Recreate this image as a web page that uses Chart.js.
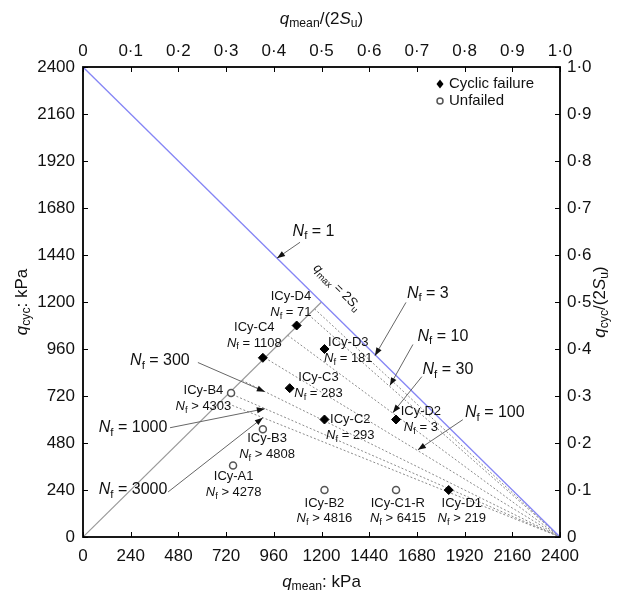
<!DOCTYPE html>
<html><head><meta charset="utf-8">
<script src="https://cdn.jsdelivr.net/npm/chart.js@4/dist/chart.umd.min.js"></script>
<style>html,body{margin:0;padding:0;background:#fff;}canvas{display:block;}</style>
</head><body>
<canvas id="c" width="620" height="596"></canvas>
<script>
// ---------------- data ----------------
const twoSu = 2400;
const kPaTicks = ['0','240','480','720','960','1200','1440','1680','1920','2160','2400'];
const normTicks = ['0','0·1','0·2','0·3','0·4','0·5','0·6','0·7','0·8','0·9','1·0'];

const failedNames = ['ICy-D4','ICy-C4','ICy-D3','ICy-C3','ICy-C2','ICy-D2','ICy-D1'];
const failedMean  = [1075, 905, 1215, 1040, 1215, 1575, 1840];
const failedCyc   = [1080, 915, 960, 760, 600, 600, 240];
const failedNf    = ['= 71','= 1108','= 181','= 283','= 293','= 3','> 219'];

const unfailedNames = ['ICy-B4','ICy-B3','ICy-A1','ICy-B2','ICy-C1-R'];
const unfailedMean  = [745, 905, 755, 1215, 1575];
const unfailedCyc   = [735, 550, 365, 240, 240];
const unfailedNf    = ['> 4303','> 4808','> 4278','> 4816','> 6415'];

// Nf contours: straight from (2Su, 0) to a point on the qcyc = qmean line
const contourNf    = [3, 10, 30, 100, 300, 1000, 3000];
const contourStart = [1165, 1135, 1030, 915, 800, 735, 695];

const oneToOneEnd = 1200;

// ---------------- annotation layout (data units) ----------------
const failedLabelAt   = [[1046,1228],[862,1070],[1335,993],[1185,814],[1345,599],[1700,640],[1906,174]];
const unfailedLabelAt = [[606,747],[926,501],[758,307],[1215,174],[1584,174]];

const arrowNf     = [1, 3, 10, 30, 100, 300, 1000, 3000];
const arrowTextAt = [[1160,1561],[1735,1244],[1811,1024],[1836,855],[2072,635],[387,901],[252,558],[252,240]];
const arrowFrom   = [[1092,1505],[1625,1198],[1660,983],[1705,819],[1911,599],[578,891],[438,558],[428,230]];
const arrowTip    = [[976,1424],[1469,926],[1544,773],[1559,635],[1685,445],[915,742],[915,655],[905,609]];
const qmaxLabelAt = [1278,1274];

// ---------------- helpers ----------------
const FAM = '"Liberation Sans", Arial, Helvetica, sans-serif';
function drawRich(ctx, segs, x, y, size, align, rot) {
  ctx.save(); ctx.translate(x, y); if (rot) ctx.rotate(rot);
  const f = st => (st === 'i' ? 'italic ' : '') + (st === 's' ? (size*0.72).toFixed(1) : size) + 'px ' + FAM;
  let w = 0;
  segs.forEach(([t, st]) => { ctx.font = f(st); w += ctx.measureText(t).width; });
  let cx = align === 'center' ? -w/2 : (align === 'right' ? -w : 0);
  ctx.textBaseline = 'middle'; ctx.textAlign = 'left'; ctx.fillStyle = '#111';
  segs.forEach(([t, st]) => { ctx.font = f(st); ctx.fillText(t, cx, st === 's' ? size*0.3 : 0); cx += ctx.measureText(t).width; });
  ctx.restore();
}
const nfSegs = rel => [['N','i'],['f','s'],[' ' + rel,'n']];

const annot = {
  id: 'annot',
  afterDatasetsDraw(chart) {
    const {ctx, scales: {x, y}} = chart;
    const X = v => x.getPixelForValue(v), Y = v => y.getPixelForValue(v);
    const lab = (names, nfs, at) => names.forEach((n, i) => {
      const px = X(at[i][0]), py = Y(at[i][1]);
      drawRich(ctx, [[n,'n']], px, py, 13, 'center');
      drawRich(ctx, nfSegs(nfs[i]), px, py + 15.5, 13, 'center');
    });
    lab(failedNames, failedNf, failedLabelAt);
    lab(unfailedNames, unfailedNf, unfailedLabelAt);
    arrowNf.forEach((n, i) => {
      const fx = X(arrowFrom[i][0]), fy = Y(arrowFrom[i][1]);
      const tx = X(arrowTip[i][0]), ty = Y(arrowTip[i][1]);
      ctx.save();
      ctx.strokeStyle = '#666'; ctx.lineWidth = 1;
      ctx.beginPath(); ctx.moveTo(fx, fy); ctx.lineTo(tx, ty); ctx.stroke();
      const ang = Math.atan2(ty - fy, tx - fx);
      ctx.translate(tx, ty); ctx.rotate(ang);
      ctx.fillStyle = '#111';
      ctx.beginPath(); ctx.moveTo(0, 0); ctx.lineTo(-8, -3); ctx.lineTo(-8, 3); ctx.closePath(); ctx.fill();
      ctx.restore();
      drawRich(ctx, nfSegs('= ' + n), X(arrowTextAt[i][0]), Y(arrowTextAt[i][1]), 16, 'center');
    });
    const ang = Math.atan2(Y(0) - Y(twoSu), X(twoSu) - X(0));
    drawRich(ctx, [['q','i'],['max','s'],[' = 2','n'],['S','i'],['u','s']], X(qmaxLabelAt[0]), Y(qmaxLabelAt[1]), 13, 'center', ang);
  },
  afterDraw(chart) {
    const {ctx, chartArea: a, scales: {x, y, x2, y2}} = chart;
    ctx.save();
    ctx.strokeStyle = '#000'; ctx.lineWidth = 1;
    const L = 5;
    x.ticks.forEach(t => { const p = Math.round(x.getPixelForValue(t.value)) + 0.5; ctx.beginPath(); ctx.moveTo(p, a.bottom); ctx.lineTo(p, a.bottom - L); ctx.stroke(); });
    x2.ticks.forEach(t => { const p = Math.round(x2.getPixelForValue(t.value)) + 0.5; ctx.beginPath(); ctx.moveTo(p, a.top); ctx.lineTo(p, a.top + L); ctx.stroke(); });
    y.ticks.forEach(t => { const p = Math.round(y.getPixelForValue(t.value)) + 0.5; ctx.beginPath(); ctx.moveTo(a.left, p); ctx.lineTo(a.left + L, p); ctx.stroke(); });
    y2.ticks.forEach(t => { const p = Math.round(y2.getPixelForValue(t.value)) + 0.5; ctx.beginPath(); ctx.moveTo(a.right, p); ctx.lineTo(a.right - L, p); ctx.stroke(); });
    ctx.lineWidth = 1.8;
    ctx.strokeRect(a.left, a.top, a.right - a.left, a.bottom - a.top);
    ctx.restore();
    const cxm = (a.left + a.right) / 2, cym = (a.top + a.bottom) / 2;
    drawRich(ctx, [['q','i'],['mean','s'],[': kPa','n']], cxm, 582, 17, 'center');
    drawRich(ctx, [['q','i'],['mean','s'],['/(2','n'],['S','i'],['u','s'],[')','n']], cxm, 19, 17, 'center');
    drawRich(ctx, [['q','i'],['cyc','s'],[': kPa','n']], 22, cym, 17, 'center', -Math.PI/2);
    drawRich(ctx, [['q','i'],['cyc','s'],['/(2','n'],['S','i'],['u','s'],[')','n']], 600, cym, 17, 'center', -Math.PI/2);
    const lx = a.right - 120, ly = a.top + 17;
    ctx.save();
    ctx.fillStyle = '#000';
    ctx.beginPath(); ctx.moveTo(lx, ly - 4.5); ctx.lineTo(lx + 3.5, ly); ctx.lineTo(lx, ly + 4.5); ctx.lineTo(lx - 3.5, ly); ctx.closePath(); ctx.fill();
    ctx.strokeStyle = '#555'; ctx.lineWidth = 1.5;
    ctx.beginPath(); ctx.arc(lx, ly + 17, 3, 0, Math.PI*2); ctx.stroke();
    ctx.restore();
    drawRich(ctx, [['Cyclic failure','n']], lx + 9, ly, 15, 'left');
    drawRich(ctx, [['Unfailed','n']], lx + 9, ly + 17, 15, 'left');
  }
};

// ---------------- datasets ----------------
const pts = (xs, ys) => xs.map((v, i) => ({x: v, y: ys[i]}));
const datasets = [
  {label: 'Cyclic failure', data: pts(failedMean, failedCyc), pointStyle: 'rectRot', pointRadius: 4.5,
   backgroundColor: '#000', borderColor: '#000', borderWidth: 1, showLine: false, order: 0},
  {label: 'Unfailed', data: pts(unfailedMean, unfailedCyc), pointStyle: 'circle', pointRadius: 3.5,
   backgroundColor: '#fff', borderColor: '#555', borderWidth: 1.5, showLine: false, order: 0},
  {label: 'qmax = 2Su', data: [{x: 0, y: twoSu}, {x: twoSu, y: 0}], showLine: true, pointRadius: 0,
   borderColor: '#8585f5', borderWidth: 1.3, order: 2},
  {label: 'qcyc = qmean', data: [{x: 0, y: 0}, {x: oneToOneEnd, y: oneToOneEnd}], showLine: true, pointRadius: 0,
   borderColor: '#9a9a9a', borderWidth: 1.2, order: 3},
];
contourNf.forEach((n, i) => datasets.push({
  label: 'Nf = ' + n, data: [{x: contourStart[i], y: contourStart[i]}, {x: twoSu, y: 0}], showLine: true, pointRadius: 0,
  borderColor: '#8a8a8a', borderWidth: 1, borderDash: [2, 2], order: 4
}));

const tickFont = {family: FAM, size: 17};
const common = {grid: {display: false, drawTicks: false}, border: {display: false}};
new Chart(document.getElementById('c'), {
  type: 'scatter',
  data: {datasets},
  options: {
    responsive: false, animation: false, devicePixelRatio: 1,
    layout: {padding: 0},
    plugins: {legend: {display: false}, tooltip: {enabled: false}},
    scales: {
      x: {...common, type: 'linear', position: 'bottom', min: 0, max: 2400,
          ticks: {stepSize: 240, autoSkip: false, maxRotation: 0, padding: 9, color: '#111', font: tickFont,
                  callback: (v, i) => kPaTicks[i]},
          afterFit: s => { s.height = 59; }},
      x2: {...common, type: 'linear', position: 'top', min: 0, max: 1,
          ticks: {stepSize: 0.1, autoSkip: false, maxRotation: 0, padding: 5, color: '#111', font: tickFont,
                  callback: (v, i) => normTicks[i]},
          afterFit: s => { s.height = 67; }},
      y: {...common, type: 'linear', position: 'left', min: 0, max: 2400,
          ticks: {stepSize: 240, autoSkip: false, padding: 8, color: '#111', font: tickFont,
                  callback: (v, i) => kPaTicks[i]},
          afterFit: s => { s.width = 83; }},
      y2: {...common, type: 'linear', position: 'right', min: 0, max: 1,
          ticks: {stepSize: 0.1, autoSkip: false, padding: 7, color: '#111', font: tickFont,
                  callback: (v, i) => normTicks[i]},
          afterFit: s => { s.width = 60; }}
    }
  },
  plugins: [annot]
});
</script>
</body></html>
